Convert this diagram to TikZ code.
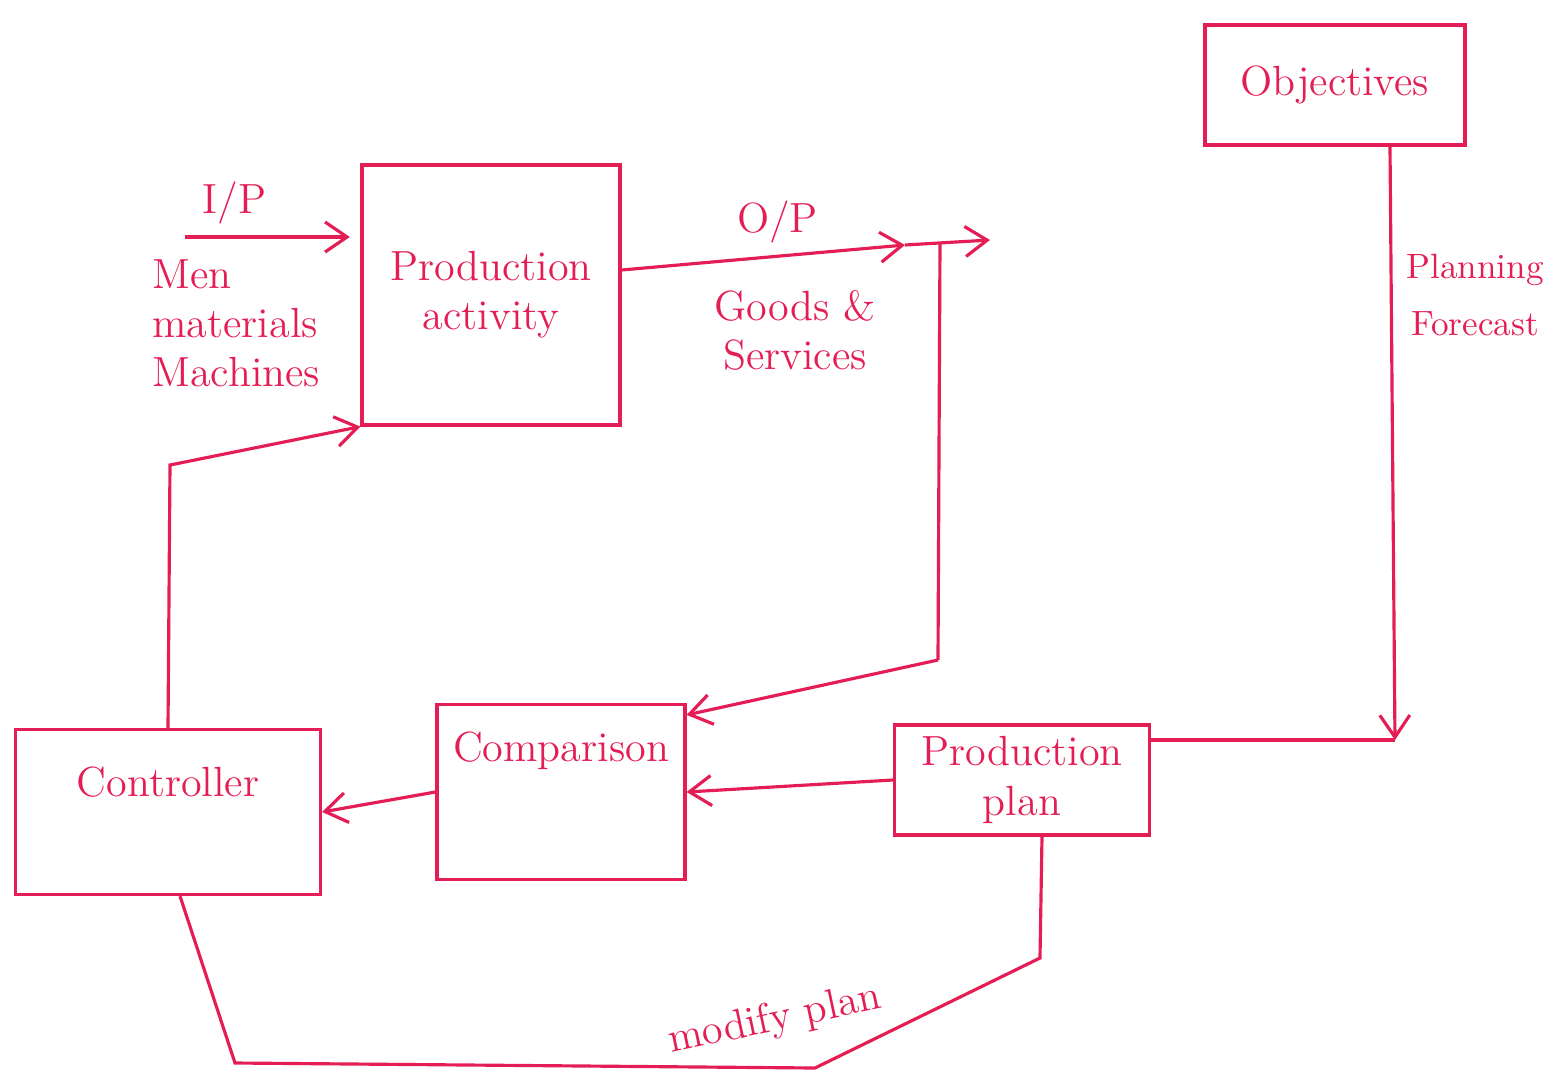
\documentclass[tikz,border=0pt]{standalone}
\usepackage{xcolor}
\usepackage{tikz}
\usetikzlibrary{arrows.meta,positioning}

\definecolor{inkred}{RGB}{228,30,85}

\begin{document}
\begin{tikzpicture}[
    box/.style={rectangle, draw=inkred, line width=0.9pt, align=center, font=\large, text=inkred},
    lbl/.style={align=center, font=\large, text=inkred},
    arrow/.style={-{Straight Barb[length=2.2mm,width=3mm]}, draw=inkred, line width=0.9pt},
    wire/.style={draw=inkred, line width=0.9pt}
]
\useasboundingbox (0,0) rectangle (15.58,-10.79);

% Production activity
\node[box, minimum width=2.58cm, minimum height=2.6cm] (prod) at (4.91,-2.95) {Production\\activity};

% Objectives
\node[box, minimum width=2.6cm, minimum height=1.2cm] (obj) at (13.35,-0.85) {Objectives};

% Production plan
\node[box, minimum width=2.55cm, minimum height=0.9cm] (plan) at (10.22,-7.8) {Production\\plan};

% Comparison
\node[box, minimum width=2.48cm, minimum height=1.75cm, text depth=0.9cm] (comp) at (5.61,-7.92) {Comparison};

% Controller
\node[box, minimum width=3.05cm, minimum height=1.65cm, text depth=0.6cm] (ctrl) at (1.68,-8.12) {Controller};

% Input side
\coordinate (ipstart) at (1.85,-2.37);
\node[lbl, align=left, below right=0.1cm and -0.45cm of ipstart] (inputs) {Men\\materials\\Machines};

% Output side
\coordinate (optip) at (9.05,-2.45);
\coordinate (opend) at (9.9,-2.4);
\coordinate (obranch) at (9.4,-2.43);
\coordinate (obend) at (9.38,-6.6);
\node[lbl] (goods) at (7.95,-3.3) {Goods \&\\Services};

% Planning side
\coordinate (pcorner) at (13.95,-7.4);
\node[lbl, font=\normalsize] (forecast) at (14.75,-2.95) {Planning\\[4pt]Forecast};

% Feedback corners
\coordinate (fb) at (1.7,-4.65);
\coordinate (m1) at (10.4,-9.58);
\coordinate (m2) at (8.15,-10.68);
\coordinate (m3) at (2.35,-10.63);

% Arrows
\draw[arrow] (ipstart) -- node[lbl, above, pos=0.3] (iplbl) {I/P} ([xshift=-3pt]prod.west |- ipstart);
\draw[arrow] ([yshift=0.25cm]prod.east) -- node[lbl, above, pos=0.55] (oplbl) {O/P} (optip);
\draw[arrow] (optip) -- (opend);
\draw[wire] (obranch) -- (obend);
\draw[arrow] (obend) -- ([yshift=-0.12cm]comp.north east);
\draw[arrow] (comp.west) -- (ctrl.east);
\draw[arrow] (plan.west) -- (comp.east);
\draw[arrow] (ctrl.north) -- (fb) -- (prod.south west);
\draw[arrow] ([xshift=0.55cm]obj.south) -- (pcorner);
\draw[wire] (pcorner) -- (pcorner -| plan.east);
\draw[wire] ([xshift=0.2cm]plan.south) -- (m1) -- (m2) -- (m3) -- ([xshift=0.12cm]ctrl.south);
\node[lbl, rotate=12] (modify) at (7.75,-10.2) {modify plan};

\end{tikzpicture}
\end{document}
